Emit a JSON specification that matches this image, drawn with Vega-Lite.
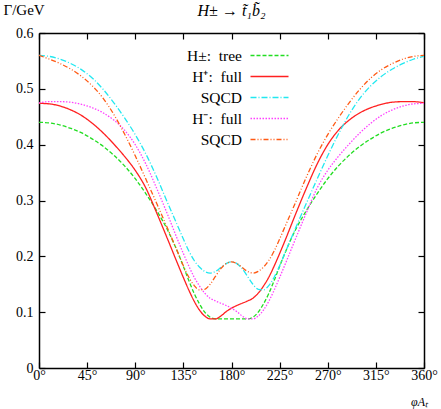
{
  "$schema": "https://vega.github.io/schema/vega-lite/v6.json",
  "width": 385,
  "height": 335,
  "autosize": "none",
  "padding": {"left": 39, "top": 33, "right": 17, "bottom": 41},
  "background": "white",
  "title": {"text": "H± → t̃₁b̃₂", "font": "Liberation Serif", "fontSize": 16, "fontWeight": "normal", "fontStyle": "italic", "offset": -17, "color": "black", "anchor": "middle"},
  "config": {"view": {"stroke": null}, "font": "Liberation Serif"},
  "data": {"values": [
    {"phi": 0, "tree": 0.440, "hpf": 0.474, "hps": 0.560, "hmf": 0.475, "hms": 0.560},
    {"phi": 10, "tree": 0.439, "hpf": 0.473, "hps": 0.558, "hmf": 0.477, "hms": 0.553},
    {"phi": 20, "tree": 0.435, "hpf": 0.469, "hps": 0.553, "hmf": 0.477, "hms": 0.545},
    {"phi": 30, "tree": 0.429, "hpf": 0.462, "hps": 0.545, "hmf": 0.476, "hms": 0.535},
    {"phi": 40, "tree": 0.421, "hpf": 0.452, "hps": 0.534, "hmf": 0.472, "hms": 0.522},
    {"phi": 50, "tree": 0.410, "hpf": 0.438, "hps": 0.519, "hmf": 0.466, "hms": 0.505},
    {"phi": 60, "tree": 0.397, "hpf": 0.421, "hps": 0.499, "hmf": 0.457, "hms": 0.483},
    {"phi": 70, "tree": 0.381, "hpf": 0.401, "hps": 0.475, "hmf": 0.444, "hms": 0.454},
    {"phi": 80, "tree": 0.362, "hpf": 0.379, "hps": 0.448, "hmf": 0.426, "hms": 0.419},
    {"phi": 90, "tree": 0.339, "hpf": 0.354, "hps": 0.418, "hmf": 0.400, "hms": 0.380},
    {"phi": 100, "tree": 0.312, "hpf": 0.322, "hps": 0.383, "hmf": 0.365, "hms": 0.338},
    {"phi": 110, "tree": 0.282, "hpf": 0.278, "hps": 0.342, "hmf": 0.322, "hms": 0.295},
    {"phi": 120, "tree": 0.248, "hpf": 0.232, "hps": 0.297, "hmf": 0.276, "hms": 0.251},
    {"phi": 130, "tree": 0.206, "hpf": 0.185, "hps": 0.253, "hmf": 0.228, "hms": 0.206},
    {"phi": 135, "tree": 0.182, "hpf": 0.162, "hps": 0.231, "hmf": 0.205, "hms": 0.183},
    {"phi": 140, "tree": 0.157, "hpf": 0.140, "hps": 0.210, "hmf": 0.183, "hms": 0.163},
    {"phi": 145, "tree": 0.134, "hpf": 0.120, "hps": 0.193, "hmf": 0.163, "hms": 0.148},
    {"phi": 150, "tree": 0.115, "hpf": 0.104, "hps": 0.181, "hmf": 0.147, "hms": 0.140},
    {"phi": 155, "tree": 0.100, "hpf": 0.093, "hps": 0.173, "hmf": 0.134, "hms": 0.141},
    {"phi": 160, "tree": 0.091, "hpf": 0.088, "hps": 0.170, "hmf": 0.125, "hms": 0.150},
    {"phi": 165, "tree": 0.088, "hpf": 0.088, "hps": 0.173, "hmf": 0.120, "hms": 0.164},
    {"phi": 170, "tree": 0.088, "hpf": 0.093, "hps": 0.180, "hmf": 0.116, "hms": 0.178},
    {"phi": 175, "tree": 0.088, "hpf": 0.101, "hps": 0.187, "hmf": 0.112, "hms": 0.187},
    {"phi": 180, "tree": 0.088, "hpf": 0.107, "hps": 0.190, "hmf": 0.107, "hms": 0.190},
    {"phi": 185, "tree": 0.088, "hpf": 0.112, "hps": 0.187, "hmf": 0.101, "hms": 0.187},
    {"phi": 190, "tree": 0.088, "hpf": 0.116, "hps": 0.178, "hmf": 0.093, "hms": 0.180},
    {"phi": 195, "tree": 0.088, "hpf": 0.120, "hps": 0.164, "hmf": 0.088, "hms": 0.173},
    {"phi": 200, "tree": 0.091, "hpf": 0.125, "hps": 0.150, "hmf": 0.088, "hms": 0.170},
    {"phi": 205, "tree": 0.100, "hpf": 0.134, "hps": 0.141, "hmf": 0.093, "hms": 0.173},
    {"phi": 210, "tree": 0.115, "hpf": 0.147, "hps": 0.140, "hmf": 0.104, "hms": 0.181},
    {"phi": 215, "tree": 0.134, "hpf": 0.163, "hps": 0.148, "hmf": 0.120, "hms": 0.193},
    {"phi": 220, "tree": 0.157, "hpf": 0.183, "hps": 0.163, "hmf": 0.140, "hms": 0.210},
    {"phi": 225, "tree": 0.182, "hpf": 0.205, "hps": 0.183, "hmf": 0.162, "hms": 0.231},
    {"phi": 230, "tree": 0.206, "hpf": 0.228, "hps": 0.206, "hmf": 0.185, "hms": 0.253},
    {"phi": 240, "tree": 0.248, "hpf": 0.276, "hps": 0.251, "hmf": 0.232, "hms": 0.297},
    {"phi": 250, "tree": 0.282, "hpf": 0.322, "hps": 0.295, "hmf": 0.278, "hms": 0.342},
    {"phi": 260, "tree": 0.312, "hpf": 0.365, "hps": 0.338, "hmf": 0.322, "hms": 0.383},
    {"phi": 270, "tree": 0.339, "hpf": 0.400, "hps": 0.380, "hmf": 0.354, "hms": 0.418},
    {"phi": 280, "tree": 0.362, "hpf": 0.426, "hps": 0.419, "hmf": 0.379, "hms": 0.448},
    {"phi": 290, "tree": 0.381, "hpf": 0.444, "hps": 0.454, "hmf": 0.401, "hms": 0.475},
    {"phi": 300, "tree": 0.397, "hpf": 0.457, "hps": 0.483, "hmf": 0.421, "hms": 0.499},
    {"phi": 310, "tree": 0.410, "hpf": 0.466, "hps": 0.505, "hmf": 0.438, "hms": 0.519},
    {"phi": 320, "tree": 0.421, "hpf": 0.472, "hps": 0.522, "hmf": 0.452, "hms": 0.534},
    {"phi": 330, "tree": 0.429, "hpf": 0.476, "hps": 0.535, "hmf": 0.462, "hms": 0.545},
    {"phi": 340, "tree": 0.435, "hpf": 0.477, "hps": 0.545, "hmf": 0.469, "hms": 0.553},
    {"phi": 350, "tree": 0.439, "hpf": 0.477, "hps": 0.553, "hmf": 0.473, "hms": 0.558},
    {"phi": 360, "tree": 0.440, "hpf": 0.475, "hps": 0.558, "hmf": 0.474, "hms": 0.560}
  ]},
  "transform": [{"fold": ["tree", "hpf", "hps", "hmf", "hms"], "as": ["s", "G"]}],
  "resolve": {"axis": {"x": "independent", "y": "independent"}},
  "layer": [
    {
      "mark": {"type": "line", "strokeWidth": 1.3, "interpolate": "monotone", "clip": true},
      "encoding": {
        "x": {"field": "phi", "type": "quantitative", "scale": {"domain": [0, 360], "nice": false, "zero": false},
          "axis": {"orient": "bottom", "values": [0, 45, 90, 135, 180, 225, 270, 315, 360], "labelExpr": "datum.value + '°'", "grid": false,
            "tickSize": -6, "tickColor": "black", "tickWidth": 1.2, "domainColor": "black", "domainWidth": 1.5,
            "labelFont": "Liberation Serif", "labelFontSize": 14, "labelColor": "black", "labelPadding": 6, "labelFlush": false,
            "title": "φAₜ", "titleFont": "Liberation Serif", "titleFontSize": 12, "titleFontWeight": "normal", "titleFontStyle": "italic", "titleColor": "black",
            "titleX": 380, "titleY": 33, "titleAlign": "center", "titleBaseline": "middle"}},
        "y": {"field": "G", "type": "quantitative", "scale": {"domain": [0, 0.6], "nice": false},
          "axis": {"orient": "left", "values": [0, 0.1, 0.2, 0.3, 0.4, 0.5, 0.6], "format": "~g", "grid": false,
            "tickSize": -6, "tickColor": "black", "tickWidth": 1.2, "domainColor": "black", "domainWidth": 1.5,
            "labelFont": "Liberation Serif", "labelFontSize": 14, "labelColor": "black", "labelPadding": 12,
            "title": "Γ/GeV", "titleFont": "Liberation Serif", "titleFontSize": 15, "titleFontWeight": "normal", "titleColor": "black",
            "titleAngle": 0, "titleX": -36, "titleY": -24, "titleAlign": "left", "titleBaseline": "middle"}},
        "color": {"field": "s", "type": "nominal",
          "scale": {"domain": ["tree", "hpf", "hps", "hmf", "hms"], "range": ["#22dd22", "#ff2020", "#22e8f0", "#ff40ff", "#ff5a14"]},
          "legend": {"orient": "none", "legendX": 220, "legendY": 12, "title": null, "symbolType": "M-2,0H2", "symbolSize": 361, "symbolStrokeWidth": 1.4,
            "labelAlign": "right", "labelOffset": -38, "labelFont": "Liberation Serif", "labelFontSize": 15.5, "labelColor": "black", "rowPadding": 2, "labelLimit": 300,
            "labelExpr": "datum.value == 'tree' ? 'H±:\u2002tree' : datum.value == 'hpf' ? 'H⁺:\u2002full' : datum.value == 'hmf' ? 'H⁻:\u2002full' : 'SQCD'"}},
        "strokeDash": {"field": "s", "type": "nominal",
          "scale": {"domain": ["tree", "hpf", "hps", "hmf", "hms"], "range": [[4, 2], [1, 0], [6, 2, 1, 2], [1.5, 1.5], [5, 2, 1, 2, 1, 2]]},
          "legend": {"orient": "none", "legendX": 220, "legendY": 12, "title": null, "symbolType": "M-2,0H2", "symbolSize": 361, "symbolStrokeWidth": 1.4,
            "labelAlign": "right", "labelOffset": -38, "labelFont": "Liberation Serif", "labelFontSize": 15.5, "labelColor": "black", "rowPadding": 2, "labelLimit": 300,
            "labelExpr": "datum.value == 'tree' ? 'H±:\u2002tree' : datum.value == 'hpf' ? 'H⁺:\u2002full' : datum.value == 'hmf' ? 'H⁻:\u2002full' : 'SQCD'"}}
      }
    },
    {
      "mark": {"type": "line", "opacity": 0},
      "encoding": {
        "x": {"field": "phi", "type": "quantitative",
          "axis": {"orient": "top", "values": [0, 45, 90, 135, 180, 225, 270, 315, 360], "labels": false, "title": null, "grid": false,
            "tickSize": -6, "tickColor": "black", "tickWidth": 1.2, "domainColor": "black", "domainWidth": 1.5}},
        "y": {"field": "G", "type": "quantitative",
          "axis": {"orient": "right", "values": [0, 0.1, 0.2, 0.3, 0.4, 0.5, 0.6], "labels": false, "title": null, "grid": false,
            "tickSize": -6, "tickColor": "black", "tickWidth": 1.2, "domainColor": "black", "domainWidth": 1.5}},
        "detail": {"field": "s", "type": "nominal"}
      }
    }
  ]
}
